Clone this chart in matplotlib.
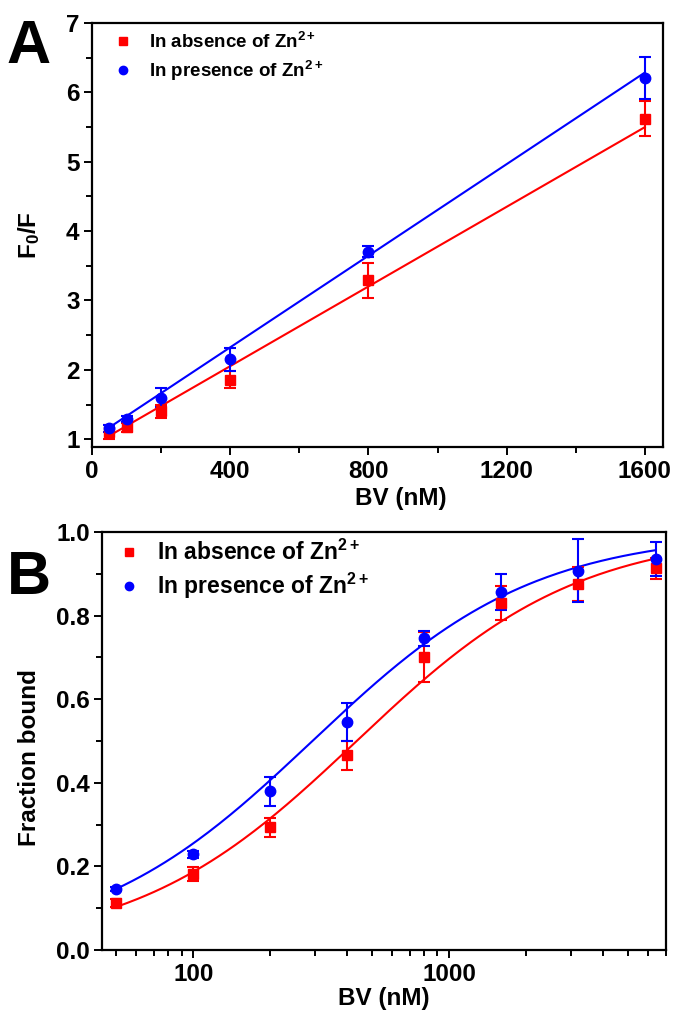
import matplotlib
matplotlib.use('Agg')
import matplotlib.pyplot as plt
import numpy as np
from matplotlib.ticker import MultipleLocator, FixedLocator, NullFormatter, LogLocator

plt.rcParams['font.family'] = ['Liberation Sans', 'DejaVu Sans']
plt.rcParams['font.weight'] = 'bold'
plt.rcParams['mathtext.fontset'] = 'custom'
plt.rcParams['mathtext.rm'] = 'Liberation Sans:bold'
plt.rcParams['mathtext.it'] = 'Liberation Sans:bold'
plt.rcParams['mathtext.bf'] = 'Liberation Sans:bold'

# panel A: Stern-Volmer data
bv_a = [50, 100, 200, 400, 800, 1600]
absent_a = [1.10, 1.17, 1.40, 1.86, 3.29, 5.62]
absent_a_err = [0.10, 0.07, 0.10, 0.12, 0.25, 0.25]
present_a = [1.16, 1.29, 1.60, 2.15, 3.70, 6.21]
present_a_err = [0.05, 0.04, 0.14, 0.16, 0.08, 0.30]
# linear fits (slope, intercept)
fit_absent_a = (0.00287, 0.906)
fit_present_a = (0.00330, 1.005)

# panel B: binding data
bv_b = [50, 100, 200, 400, 800, 1600, 3200, 6400]
absent_b = [0.112, 0.182, 0.294, 0.466, 0.700, 0.830, 0.876, 0.913]
absent_b_err = [0.010, 0.017, 0.023, 0.035, 0.060, 0.040, 0.040, 0.025]
present_b = [0.146, 0.229, 0.380, 0.545, 0.746, 0.857, 0.907, 0.935]
present_b_err = [0.005, 0.008, 0.035, 0.045, 0.018, 0.043, 0.075, 0.040]
# one-site binding fits (Kd in nM)
kd_absent = 435
kd_present = 292

lab_abs = 'In absence of Zn$^{2+}$'
lab_pre = 'In presence of Zn$^{2+}$'
red = '#ff0000'
blue = '#0000ff'
fs = 17.5

fig = plt.figure(figsize=(6.77, 10.21), dpi=100)
axA = fig.add_axes([0.136, 0.562, 0.843, 0.4155])
axB = fig.add_axes([0.151, 0.0695, 0.833, 0.4095])

def style(ax):
    for s in ax.spines.values():
        s.set_linewidth(1.6)
    ax.tick_params(which='both', direction='out', width=1.4, top=False, right=False, labelsize=fs, pad=3)
    ax.tick_params(which='major', length=6)
    ax.tick_params(which='minor', length=4)

# ---- A
xl = np.array([50, 1600])
axA.plot(xl, fit_absent_a[0]*xl + fit_absent_a[1], color=red, lw=1.5)
axA.plot(xl, fit_present_a[0]*xl + fit_present_a[1], color=blue, lw=1.5)
axA.errorbar(bv_a, absent_a, yerr=absent_a_err, fmt='s', color=red, ms=6.5, capsize=4.5, elinewidth=1.5, capthick=1.5, label=lab_abs)
axA.errorbar(bv_a, present_a, yerr=present_a_err, fmt='o', color=blue, ms=7.5, capsize=4.5, elinewidth=1.5, capthick=1.5, label=lab_pre)
axA.set_xlim(0, 1652)
axA.set_ylim(0.885, 7)
axA.xaxis.set_major_locator(MultipleLocator(400))
axA.xaxis.set_minor_locator(MultipleLocator(200))
axA.yaxis.set_major_locator(MultipleLocator(1))
axA.yaxis.set_minor_locator(MultipleLocator(0.5))
style(axA)
axA.set_xlabel('BV (nM)', fontsize=fs, fontweight='bold', labelpad=1)
axA.xaxis.set_label_coords(0.541, -0.095)
axA.set_ylabel('F$_0$/F', fontsize=fs, fontweight='bold')
axA.yaxis.set_label_coords(-0.088, 0.5)
h, l = axA.get_legend_handles_labels()
h = [x[0] for x in h]
axA.legend(h, l, loc='upper left', bbox_to_anchor=(0.008, 1.01), frameon=False, fontsize=13.5,
           handletextpad=0.7, markerscale=0.8, borderaxespad=0.3, labelspacing=0.35, handlelength=1.4)
fig.text(0.010, 0.938, 'A', fontsize=44, fontweight='bold')

# ---- B
xc = np.logspace(np.log10(50), np.log10(6400), 200)
axB.plot(xc, xc/(kd_absent + xc), color=red, lw=1.5)
axB.plot(xc, xc/(kd_present + xc), color=blue, lw=1.5)
axB.errorbar(bv_b, absent_b, yerr=absent_b_err, fmt='s', color=red, ms=6.5, capsize=4.5, elinewidth=1.5, capthick=1.5, label=lab_abs)
axB.errorbar(bv_b, present_b, yerr=present_b_err, fmt='o', color=blue, ms=7.5, capsize=4.5, elinewidth=1.5, capthick=1.5, label=lab_pre)
axB.set_xscale('log')
axB.set_xlim(44.1, 7042)
axB.set_ylim(0, 1.0)
axB.xaxis.set_major_locator(FixedLocator([100, 1000]))
axB.xaxis.set_minor_locator(LogLocator(base=10, subs=np.arange(2, 10)))
axB.xaxis.set_minor_formatter(NullFormatter())
axB.xaxis.set_major_formatter(matplotlib.ticker.FuncFormatter(lambda v, p: '%d' % v))
axB.yaxis.set_major_locator(MultipleLocator(0.2))
axB.yaxis.set_minor_locator(MultipleLocator(0.1))
axB.yaxis.set_major_formatter(matplotlib.ticker.FormatStrFormatter('%.1f'))
style(axB)
axB.set_xlabel('BV (nM)', fontsize=fs, fontweight='bold', labelpad=1)
axB.set_ylabel('Fraction bound', fontsize=fs, fontweight='bold')
axB.yaxis.set_label_coords(-0.108, 0.46)
h, l = axB.get_legend_handles_labels()
h = [x[0] for x in h]
axB.legend(h, l, loc='upper left', bbox_to_anchor=(-0.01, 1.02), frameon=False, fontsize=16.5,
           handletextpad=0.55, markerscale=0.8, borderaxespad=0.3, labelspacing=0.25, handlelength=1.4)
fig.text(0.010, 0.418, 'B', fontsize=44, fontweight='bold')

fig.savefig('out.png', dpi=100)
